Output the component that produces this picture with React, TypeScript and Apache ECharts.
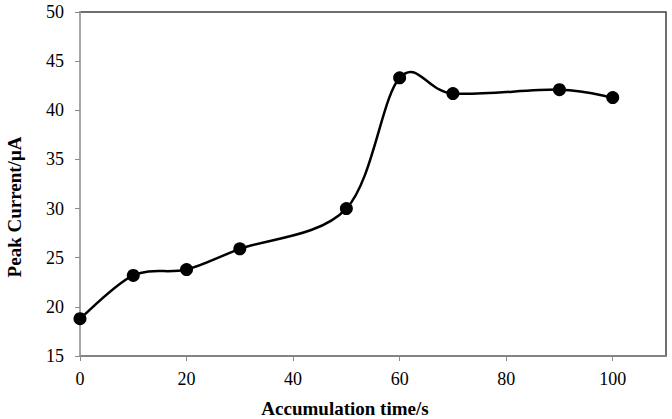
import React, { useEffect, useRef } from "react";
import * as echarts from "echarts";

const timeValues = [0, 10, 20, 30, 50, 60, 70, 90, 100];
const peakCurrent = [18.8, 23.2, 23.8, 25.9, 30.0, 43.3, 41.7, 42.1, 41.3];
const xTicks = [0, 20, 40, 60, 80, 100];
const xTitle = "Accumulation time/s";
const yTitle = "Peak Current/\u03bcA";

const FONT = "Liberation Serif";
const TENSION = 1 / 6;

export default function App() {
  const ref = useRef<HTMLDivElement>(null);
  useEffect(() => {
    if (!ref.current) return;
    const chart = echarts.init(ref.current, null, { renderer: "svg" });
    const n = timeValues.length;
    const pairs = timeValues.map((t, i) => [t, peakCurrent[i]]);
    chart.setOption({
      animation: false,
      backgroundColor: "#ffffff",
      grid: {
        left: 80,
        top: 12,
        right: 6,
        bottom: 63,
        show: true,
        borderColor: "#404040",
        borderWidth: 1.5,
        containLabel: false,
      },
      xAxis: {
        type: "value",
        min: 0,
        max: 110,
        interval: 20,
        splitLine: { show: false },
        axisLine: { show: true, lineStyle: { color: "#8a8a8a", width: 1.5 } },
        axisTick: {
          show: true,
          length: 5,
          customValues: xTicks,
          lineStyle: { color: "#8a8a8a" },
        },
        axisLabel: {
          customValues: xTicks,
          fontFamily: FONT,
          fontSize: 18,
          color: "#000",
          margin: 14,
        },
      },
      yAxis: {
        type: "value",
        min: 15,
        max: 50,
        interval: 5,
        splitLine: { show: false },
        axisLine: { show: true, lineStyle: { color: "#b8b8b8", width: 1.5 } },
        axisTick: { show: true, length: 5, lineStyle: { color: "#8a8a8a" } },
        axisLabel: {
          fontFamily: FONT,
          fontSize: 18,
          color: "#000",
          margin: 16,
        },
      },
      graphic: [
        {
          type: "text",
          x: 345,
          y: 408,
          style: {
            text: xTitle,
            font: `bold 19px ${FONT}`,
            fill: "#000",
            align: "center",
            verticalAlign: "middle",
          },
        },
        {
          type: "text",
          x: 14,
          y: 207,
          rotation: Math.PI / 2,
          style: {
            text: yTitle,
            font: `bold 19px ${FONT}`,
            fill: "#000",
            align: "center",
            verticalAlign: "middle",
          },
        },
      ],
      series: [
        {
          type: "custom",
          data: pairs,
          encode: { x: 0, y: 1 },
          z: 3,
          renderItem: (params: any, api: any) => {
            const i = params.dataIndex;
            if (i >= n - 1) return null;
            const P = (k: number) => {
              const kk = Math.max(0, Math.min(n - 1, k));
              return api.coord([timeValues[kk], peakCurrent[kk]]);
            };
            const p0 = P(i - 1);
            const p1 = P(i);
            const p2 = P(i + 1);
            const p3 = P(i + 2);
            return {
              type: "bezierCurve",
              shape: {
                x1: p1[0],
                y1: p1[1],
                x2: p2[0],
                y2: p2[1],
                cpx1: p1[0] + (p2[0] - p0[0]) * TENSION,
                cpy1: p1[1] + (p2[1] - p0[1]) * TENSION,
                cpx2: p2[0] - (p3[0] - p1[0]) * TENSION,
                cpy2: p2[1] - (p3[1] - p1[1]) * TENSION,
              },
              style: { stroke: "#000", lineWidth: 2.5, fill: "none" },
            };
          },
        },
        {
          type: "scatter",
          data: pairs,
          symbol: "circle",
          symbolSize: 13,
          itemStyle: { color: "#000", opacity: 1 },
          z: 5,
        },
      ],
    });
    return () => chart.dispose();
  }, []);
  return (
    <div
      ref={ref}
      style={{ position: "absolute", left: 0, top: 0, width: 672, height: 419 }}
    />
  );
}
